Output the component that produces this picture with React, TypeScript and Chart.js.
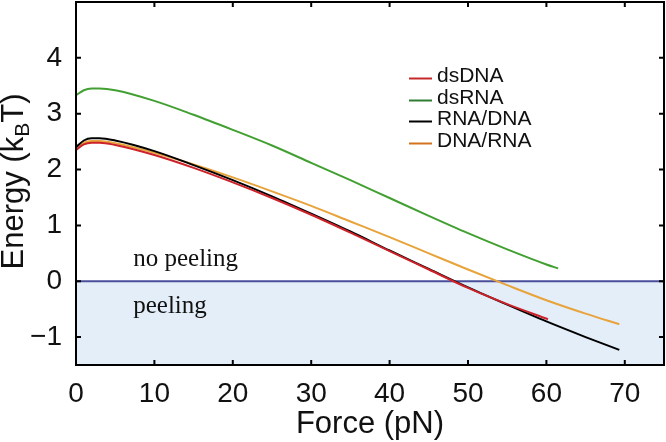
import React, { useEffect, useRef } from "react";
import { Chart, registerables } from "chart.js";

Chart.register(...registerables);

// ---- Data ----
const seriesLabels = ["dsDNA", "dsRNA", "RNA/DNA", "DNA/RNA"];
const lineColors = ["#cc2229", "#42a032", "#000000", "#e8a33a"];
const legendColors = ["#c62828", "#2f7d32", "#000000", "#d4731f"];

const dsDNAForce = [0, 1, 2, 3, 5, 10, 15, 20, 25, 30, 35, 40, 45, 50, 55, 60.2];
const dsDNAEnergy = [2.35, 2.45, 2.48, 2.48, 2.44, 2.26, 2.03, 1.77, 1.49, 1.19, 0.87, 0.54, 0.21, -0.12, -0.41, -0.68];

const dsRNAForce = [0, 1, 2, 3, 5, 10, 15, 20, 25, 30, 35, 40, 45, 50, 55, 60, 61.5];
const dsRNAEnergy = [3.33, 3.42, 3.45, 3.45, 3.42, 3.23, 2.98, 2.71, 2.43, 2.12, 1.81, 1.49, 1.17, 0.86, 0.57, 0.3, 0.23];

const rnaDnaForce = [0, 1, 2, 3, 5, 10, 15, 20, 25, 30, 35, 40, 45, 50, 55, 60, 65, 69.3];
const rnaDnaEnergy = [2.4, 2.52, 2.56, 2.56, 2.52, 2.33, 2.08, 1.81, 1.52, 1.21, 0.89, 0.55, 0.22, -0.11, -0.42, -0.72, -1.0, -1.23];

const dnaRnaForce = [0, 1, 2, 3, 5, 10, 15, 20, 25, 30, 35, 40, 45, 50, 55, 60, 65, 69.3];
const dnaRnaEnergy = [2.38, 2.48, 2.51, 2.51, 2.47, 2.3, 2.09, 1.86, 1.61, 1.35, 1.07, 0.79, 0.5, 0.21, -0.07, -0.34, -0.58, -0.77];

const xTickValues = [0, 10, 20, 30, 40, 50, 60, 70];
const yTickValues = [-1, 0, 1, 2, 3, 4];

const regionLabels = ["no peeling", "peeling"];

const SANS = '"Liberation Sans", Arial, Helvetica, sans-serif';
const SERIF = '"Liberation Serif", "Times New Roman", serif';

function toPoints(xs: number[], ys: number[]) {
  return xs.map((x, i) => ({ x, y: ys[i] }));
}

const decorPlugin = {
  id: "decor",
  beforeDatasetsDraw(chart: any) {
    const { ctx, chartArea, scales } = chart;
    const { left, right, bottom } = chartArea;
    const y0 = scales.y.getPixelForValue(0);
    ctx.save();
    ctx.fillStyle = "#e3eef9";
    ctx.fillRect(left, y0, right - left, bottom - y0);
    ctx.strokeStyle = "#4a4f9c";
    ctx.lineWidth = 2;
    ctx.beginPath();
    ctx.moveTo(left, y0);
    ctx.lineTo(right, y0);
    ctx.stroke();
    // region labels
    ctx.fillStyle = "#111";
    ctx.font = `25px ${SERIF}`;
    ctx.textBaseline = "alphabetic";
    ctx.textAlign = "left";
    ctx.fillText(regionLabels[0], scales.x.getPixelForValue(7.3), scales.y.getPixelForValue(0.28));
    ctx.fillText(regionLabels[1], scales.x.getPixelForValue(7.3), scales.y.getPixelForValue(-0.57));
    ctx.restore();
  },
  afterDatasetsDraw(chart: any) {
    const { ctx, chartArea, scales } = chart;
    const { left, right, top, bottom } = chartArea;
    ctx.save();
    // frame
    ctx.strokeStyle = "#000";
    ctx.lineWidth = 2;
    ctx.strokeRect(left, top, right - left, bottom - top);
    // inward ticks
    const tl = 5;
    ctx.beginPath();
    xTickValues.forEach((v) => {
      const px = scales.x.getPixelForValue(v);
      ctx.moveTo(px, bottom);
      ctx.lineTo(px, bottom - tl);
      ctx.moveTo(px, top);
      ctx.lineTo(px, top + tl);
    });
    yTickValues.forEach((v) => {
      const py = scales.y.getPixelForValue(v);
      ctx.moveTo(left, py);
      ctx.lineTo(left + tl, py);
      ctx.moveTo(right, py);
      ctx.lineTo(right - tl, py);
    });
    ctx.stroke();

    // legend
    const lx0 = 409;
    const lx1 = 432;
    const baselines = [82, 104, 125, 147];
    ctx.font = `21px ${SANS}`;
    ctx.textAlign = "left";
    ctx.textBaseline = "alphabetic";
    chart.data.datasets.forEach((ds: any, i: number) => {
      const by = baselines[i];
      ctx.strokeStyle = legendColors[i];
      ctx.lineWidth = 2;
      ctx.beginPath();
      ctx.moveTo(lx0, by - 3.5);
      ctx.lineTo(lx1, by - 3.5);
      ctx.stroke();
      ctx.fillStyle = "#111";
      ctx.fillText(ds.label, 437, by);
    });

    // x title
    ctx.fillStyle = "#111";
    ctx.font = `31px ${SANS}`;
    ctx.textAlign = "center";
    ctx.fillText("Force (pN)", (left + right) / 2, 433);

    // y title with subscript
    ctx.translate(23, (top + bottom) / 2 - 2);
    ctx.rotate(-Math.PI / 2);
    const big = `31px ${SANS}`;
    const small = `21px ${SANS}`;
    ctx.textAlign = "left";
    ctx.font = big;
    const w1 = ctx.measureText("Energy (k").width;
    const w3 = ctx.measureText("T)").width;
    ctx.font = small;
    const w2 = ctx.measureText("B").width;
    const total = w1 + w2 + w3;
    let x = -total / 2;
    ctx.font = big;
    ctx.fillText("Energy (k", x, 0);
    x += w1;
    ctx.font = small;
    ctx.fillText("B", x, 6);
    x += w2;
    ctx.font = big;
    ctx.fillText("T)", x, 0);
    ctx.restore();
  },
};

export default function App() {
  const ref = useRef<HTMLCanvasElement | null>(null);
  useEffect(() => {
    document.body.style.margin = "0";
    const canvas = ref.current;
    if (!canvas) return;
    const forces = [dsDNAForce, dsRNAForce, rnaDnaForce, dnaRnaForce];
    const energies = [dsDNAEnergy, dsRNAEnergy, rnaDnaEnergy, dnaRnaEnergy];
    const chart = new Chart(canvas, {
      type: "line",
      data: {
        datasets: seriesLabels.map((label, i) => ({
          label,
          data: toPoints(forces[i], energies[i]),
          borderColor: lineColors[i],
          backgroundColor: lineColors[i],
          borderWidth: 2,
          pointRadius: 0,
          fill: false,
          cubicInterpolationMode: "monotone" as const,
        })),
      },
      options: {
        responsive: false,
        animation: false,
        layout: { padding: { top: 2, right: 2, left: 0, bottom: 0 } },
        plugins: {
          legend: { display: false },
          tooltip: { enabled: false },
        },
        scales: {
          x: {
            type: "linear",
            min: 0,
            max: 75,
            grid: { display: false },
            border: { display: false },
            afterBuildTicks: (scale: any) => {
              scale.ticks = xTickValues.map((v) => ({ value: v }));
            },
            afterFit: (scale: any) => {
              scale.height = 77;
              scale.paddingLeft = 0;
              scale.paddingRight = 0;
            },
            ticks: {
              padding: 4,
              color: "#111",
              font: { family: SANS, size: 28 },
              maxRotation: 0,
              autoSkip: false,
            },
          },
          y: {
            type: "linear",
            min: -1.5,
            max: 5,
            grid: { display: false },
            border: { display: false },
            afterBuildTicks: (scale: any) => {
              scale.ticks = yTickValues.map((v) => ({ value: v }));
            },
            afterFit: (scale: any) => {
              scale.width = 76;
              scale.paddingTop = 0;
              scale.paddingBottom = 0;
            },
            ticks: {
              padding: 6,
              color: "#111",
              font: { family: SANS, size: 28 },
              callback: (v: any) => (Number(v) < 0 ? "\u2212" + Math.abs(Number(v)) : String(v)),
            },
          },
        },
      },
      plugins: [decorPlugin],
    });
    return () => chart.destroy();
  }, []);
  return (
    <canvas
      ref={ref}
      width={666}
      height={442}
      style={{ display: "block", width: 666, height: 442 }}
    />
  );
}
